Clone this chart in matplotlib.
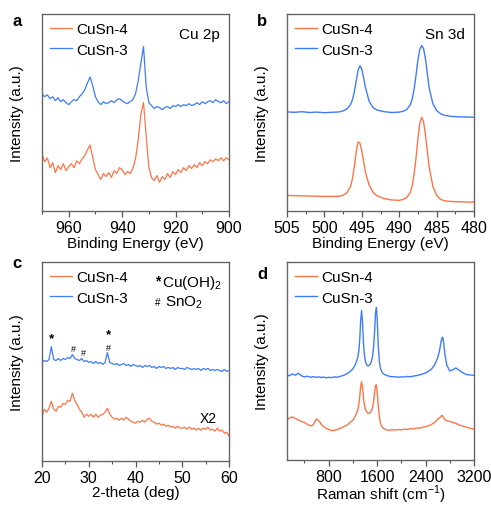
import numpy as np
import matplotlib
matplotlib.use('Agg')
import matplotlib.pyplot as plt
from matplotlib.ticker import MultipleLocator

plt.rcParams['font.family'] = ['Liberation Sans', 'DejaVu Sans']
plt.rcParams['mathtext.fontset'] = 'custom'
plt.rcParams['mathtext.rm'] = 'Liberation Sans'

ORANGE = '#FF7447'
BLUE = '#3F7BFF'
labels = ['CuSn-4', 'CuSn-3']

# ---- a: Cu 2p XPS ----
xa = np.arange(970, 899, -1)
cu_sn3 = [59.5, 58.0, 59.0, 57.0, 58.0, 56.0, 57.5, 55.5, 56.5, 55.0,
          54.0, 55.5, 56.5, 56.0, 58.0, 59.5, 61.5, 65.0, 68.0, 63.5,
          58.0, 55.5, 54.0, 55.5, 54.5, 55.0, 56.0, 55.0, 56.5, 57.0,
          56.0, 55.0, 54.5, 55.5, 56.5, 59.5, 66.0, 75.0, 83.5, 63.0,
          55.0, 53.5, 52.0, 53.0, 52.5, 51.5, 52.5, 53.0, 52.0, 53.5,
          53.0, 54.0, 53.0, 54.0, 53.5, 54.5, 53.5, 54.0, 55.0, 54.0,
          55.5, 54.5, 55.5, 56.0, 55.0, 56.5, 55.5, 55.0, 56.0, 54.5, 55.5]
cu_sn4 = [29.0, 25.0, 27.0, 22.0, 24.5, 19.5, 23.0, 21.0, 24.0, 20.5,
          22.5, 24.0, 22.0, 25.5, 24.0, 26.5, 28.0, 31.0, 33.5, 27.0,
          21.0, 18.5, 16.0, 19.0, 17.5, 19.5, 17.0, 20.5, 19.0, 22.0,
          21.0, 18.5, 20.0, 19.0, 21.5, 26.5, 36.0, 49.0, 55.0, 38.0,
          22.0, 17.0, 15.5, 18.0, 14.5, 17.5, 16.0, 19.0, 17.0, 20.0,
          18.5, 21.0, 19.5, 22.0, 20.5, 23.0, 21.5, 23.5, 22.0, 24.5,
          23.0, 25.0, 24.0, 26.0, 25.0, 26.5, 25.5, 27.0, 25.5, 27.0, 26.0]

# ---- b: Sn 3d XPS ----
xb = [505, 504, 503, 502, 501, 500, 499, 498, 497.5, 497, 496.5, 496.25,
      496, 495.75, 495.5, 495.25, 495, 494.75, 494.5, 494, 493.5, 493, 492,
      491, 490, 489.5, 489, 488.5, 488.25, 488, 487.75, 487.5, 487.25, 487,
      486.75, 486.5, 486.25, 486, 485.5, 485, 484.5, 484, 483, 482, 481, 480]
sn_sn3 = [50.3, 50.1, 50.4, 50.0, 50.2, 49.9, 50.1, 50.3, 50.8, 51.8, 54.0, 56.5,
          60.5, 66.0, 71.5, 73.8, 72.0, 67.5, 62.5, 55.5, 52.5, 51.3, 50.4,
          50.0, 50.2, 50.6, 51.5, 54.0, 57.0, 62.0, 69.0, 76.5, 82.0, 84.0,
          82.5, 77.5, 70.0, 62.5, 54.5, 51.0, 49.5, 48.6, 48.0, 47.8, 47.7, 47.6]
sn_sn4 = [7.9, 7.8, 7.7, 7.6, 7.5, 7.4, 7.4, 7.5, 8.0, 9.2, 12.5, 16.5,
          22.5, 30.0, 35.0, 34.5, 30.5, 25.0, 19.5, 13.0, 9.5, 7.8, 6.3,
          5.6, 5.4, 5.8, 6.8, 9.5, 13.0, 19.0, 27.0, 36.5, 44.5, 47.5,
          45.5, 39.0, 30.5, 22.5, 12.5, 8.0, 6.0, 5.2, 4.8, 4.7, 4.6, 4.5]

# ---- c: XRD ----
xc = np.arange(20, 60.01, 0.5)
xrd_sn3 = [49.5, 50.5, 50.0, 51.0, 57.5, 51.0, 50.5, 51.5, 50.5, 51.5,
           51.0, 52.0, 51.5, 53.5, 51.5, 51.0, 50.5, 51.5, 50.0, 50.5,
           49.5, 50.0, 49.0, 50.0, 49.0, 49.5, 48.5, 49.5, 54.5, 49.5,
           49.0, 48.5, 49.0, 48.0, 48.5, 49.0, 48.0, 48.5, 47.5, 48.5,
           48.0, 47.5, 48.0, 47.0, 48.0, 47.5, 48.0, 47.0, 47.5, 46.5,
           47.5, 47.0, 47.5, 46.5, 47.0, 46.5, 47.0, 46.0, 47.0, 46.5,
           46.5, 46.0, 47.0, 46.5, 46.0, 46.5, 46.0, 46.5, 45.5, 46.5,
           46.0, 46.5, 45.5, 46.0, 45.5, 46.0, 45.5, 45.0, 46.0, 45.0, 45.5]
xrd_sn4 = [22.5, 26.0, 24.5, 26.5, 30.0, 26.0, 25.0, 27.5, 27.0, 29.0,
           28.5, 30.5, 30.0, 34.0, 30.5, 28.5, 26.0, 24.5, 22.0, 23.5,
           22.5, 23.5, 22.0, 23.5, 22.0, 23.0, 23.5, 24.5, 26.5, 23.5,
           22.0, 21.0, 21.5, 20.5, 21.5, 20.5, 22.0, 21.0, 20.0, 19.5,
           19.0, 20.0, 19.5, 20.5, 19.5, 21.0, 21.5, 20.0, 19.5, 18.5,
           19.0, 18.0, 18.5, 17.5, 18.0, 17.0, 17.5, 16.5, 17.5, 16.5,
           16.5, 17.0, 16.0, 17.0, 16.0, 16.5, 15.5, 16.5, 15.5, 16.5,
           16.0, 17.0, 15.5, 16.0, 15.0, 16.5, 15.0, 15.5, 14.0, 14.5, 12.5]
star_pos = [(22.0, 61.5), (34.2, 63.5)]
hash_pos = [(26.8, 56.5), (28.8, 54.5), (34.2, 57.0)]

# ---- d: Raman ----
xd = [115, 150, 200, 250, 300, 350, 400, 450, 500, 550, 600, 650, 680, 720,
      760, 800, 850, 900, 950, 1000, 1050, 1100, 1150, 1200, 1240, 1280, 1300,
      1315, 1330, 1345, 1360, 1375, 1390, 1410, 1430, 1450, 1470, 1490, 1510,
      1530, 1545, 1560, 1575, 1590, 1605, 1620, 1640, 1660, 1690, 1720, 1760,
      1800, 1850, 1900, 1950, 2000, 2050, 2100, 2150, 2200, 2250, 2300, 2350,
      2400, 2450, 2500, 2550, 2600, 2630, 2655, 2670, 2685, 2700, 2720, 2750,
      2800, 2850, 2900, 2950, 3000, 3050, 3100, 3150, 3200]
ram_sn3 = [43.0, 42.5, 43.5, 42.8, 43.8, 42.6, 42.0, 42.3, 41.8, 42.1, 41.7, 42.0,
           41.6, 41.9, 41.5, 41.8, 41.6, 42.0, 41.8, 42.3, 42.8, 43.5, 44.5, 46.0,
           48.0, 51.5, 55.0, 61.0, 70.0, 75.5, 70.0, 60.0, 53.5, 49.5, 48.0, 47.5,
           47.8, 48.5, 50.0, 53.0, 57.5, 65.0, 74.0, 77.0, 70.0, 58.0, 49.5, 46.0,
           44.0, 43.2, 42.7, 42.3, 42.0, 42.1, 41.8, 42.0, 41.9, 42.2, 42.0, 42.4,
           42.6, 43.0, 43.4, 44.0, 44.8, 46.0, 48.0, 51.5, 55.0, 59.5, 61.5, 62.0,
           59.0, 53.5, 48.0, 45.0, 45.5, 46.5, 45.5, 44.3, 43.5, 43.0, 42.9, 42.8]
ram_sn4 = [20.5, 21.0, 21.8, 21.0, 20.3, 19.5, 19.0, 18.0, 17.2, 17.8, 20.8, 19.5,
           18.0, 16.8, 16.0, 15.5, 14.8, 15.0, 15.5, 16.0, 16.8, 17.5, 18.8, 20.0,
           22.0, 25.0, 28.0, 32.0, 37.0, 39.5, 37.0, 32.0, 28.0, 25.5, 24.3, 23.6,
           23.5, 24.0, 25.0, 27.0, 30.0, 34.0, 37.5, 38.0, 34.0, 27.5, 21.5, 18.0,
           16.5, 15.6, 15.2, 15.0, 15.3, 15.1, 15.4, 15.2, 15.6, 15.4, 15.8, 15.7,
           16.2, 16.0, 16.6, 16.8, 17.3, 18.0, 19.0, 20.5, 21.3, 22.0, 22.5, 22.2,
           21.3, 20.5, 19.8, 19.5, 19.0, 18.5, 17.8, 17.3, 16.8, 16.3, 16.0, 15.5]

W, H = 491, 506
fig = plt.figure(figsize=(W / 100, H / 100), dpi=100)


def make_ax(left, top, width, height):
    return fig.add_axes([left / W, 1 - (top + height) / H, width / W, height / H])


def style(ax, xlim, major, minor, xlabel, lpad=0):
    ax.set_xlim(*xlim)
    ax.set_ylim(0, 100)
    ax.xaxis.set_major_locator(MultipleLocator(major))
    ax.xaxis.set_minor_locator(MultipleLocator(minor))
    ax.set_yticks([])
    ax.tick_params(axis='x', which='major', length=4, width=0.9, labelsize=11.5,
                   pad=2.5, color='#555555')
    ax.tick_params(axis='x', which='minor', length=2.5, width=0.8, color='#555555')
    for s in ax.spines.values():
        s.set_color('#666666')
        s.set_linewidth(1.0)
    ax.set_xlabel(xlabel, fontsize=11, labelpad=lpad)
    ax.set_ylabel('Intensity (a.u.)', fontsize=11, labelpad=13)


def legend(ax):
    ax.legend(labels, loc='upper left', frameon=False, fontsize=11,
              handlelength=1.4, handletextpad=0.3, labelspacing=0.4,
              borderaxespad=0.15)


# a
ax = make_ax(42, 15, 187, 197)
ax.plot(xa, cu_sn4, color=ORANGE, lw=0.9)
ax.plot(xa, cu_sn3, color=BLUE, lw=0.9)
style(ax, (970, 900), 20, 10, 'Binding Energy (eV)', 1)
legend(ax)
ax.text(0.95, 0.9, 'Cu 2p', transform=ax.transAxes, ha='right', va='center', fontsize=11)
fig.text(17 / W, 1 - 22 / H, 'a', fontsize=12, fontweight='bold', ha='center', va='center')

# b
ax = make_ax(287, 15, 187, 197)
ax.plot(xb, sn_sn4, color=ORANGE, lw=1.0)
ax.plot(xb, sn_sn3, color=BLUE, lw=1.0)
style(ax, (505, 480), 5, 2.5, 'Binding Energy (eV)', 1)
legend(ax)
ax.text(0.95, 0.9, 'Sn 3d', transform=ax.transAxes, ha='right', va='center', fontsize=11)
fig.text(262 / W, 1 - 21 / H, 'b', fontsize=12, fontweight='bold', ha='center', va='center')

# c
ax = make_ax(42, 263, 187, 199)
ax.plot(xc, xrd_sn4, color=ORANGE, lw=0.9)
ax.plot(xc, xrd_sn3, color=BLUE, lw=0.9)
style(ax, (20, 60), 10, 5, '2-theta (deg)', 0)
legend(ax)
for x, y in star_pos:
    ax.text(x, y, '*', fontsize=9.5, fontweight='bold', ha='center', va='center')
for x, y in hash_pos:
    ax.text(x, y, '#', fontsize=6.5, ha='center', va='center')
ax.text(0.62, 0.905, '*', transform=ax.transAxes, fontsize=10, fontweight='bold',
        ha='center', va='center')
ax.text(0.64, 0.9, r'Cu(OH)$_2$', transform=ax.transAxes, fontsize=11, ha='left', va='center')
ax.text(0.62, 0.8, '#', transform=ax.transAxes, fontsize=7, ha='center', va='center')
ax.text(0.66, 0.8, r'SnO$_2$', transform=ax.transAxes, fontsize=11, ha='left', va='center')
ax.text(55.5, 21.5, 'X2', fontsize=10, ha='center', va='center')
fig.text(17 / W, 1 - 264 / H, 'c', fontsize=12, fontweight='bold', ha='center', va='center')

# d
ax = make_ax(287, 263, 187, 198)
ax.plot(xd, ram_sn4, color=ORANGE, lw=1.0)
ax.plot(xd, ram_sn3, color=BLUE, lw=1.0)
style(ax, (115, 3200), 800, 400, r'Raman shift (cm$^{-1}$)', -1)
legend(ax)
fig.text(262 / W, 1 - 275 / H, 'd', fontsize=12, fontweight='bold', ha='center', va='center')

fig.savefig('out.png', dpi=100)
